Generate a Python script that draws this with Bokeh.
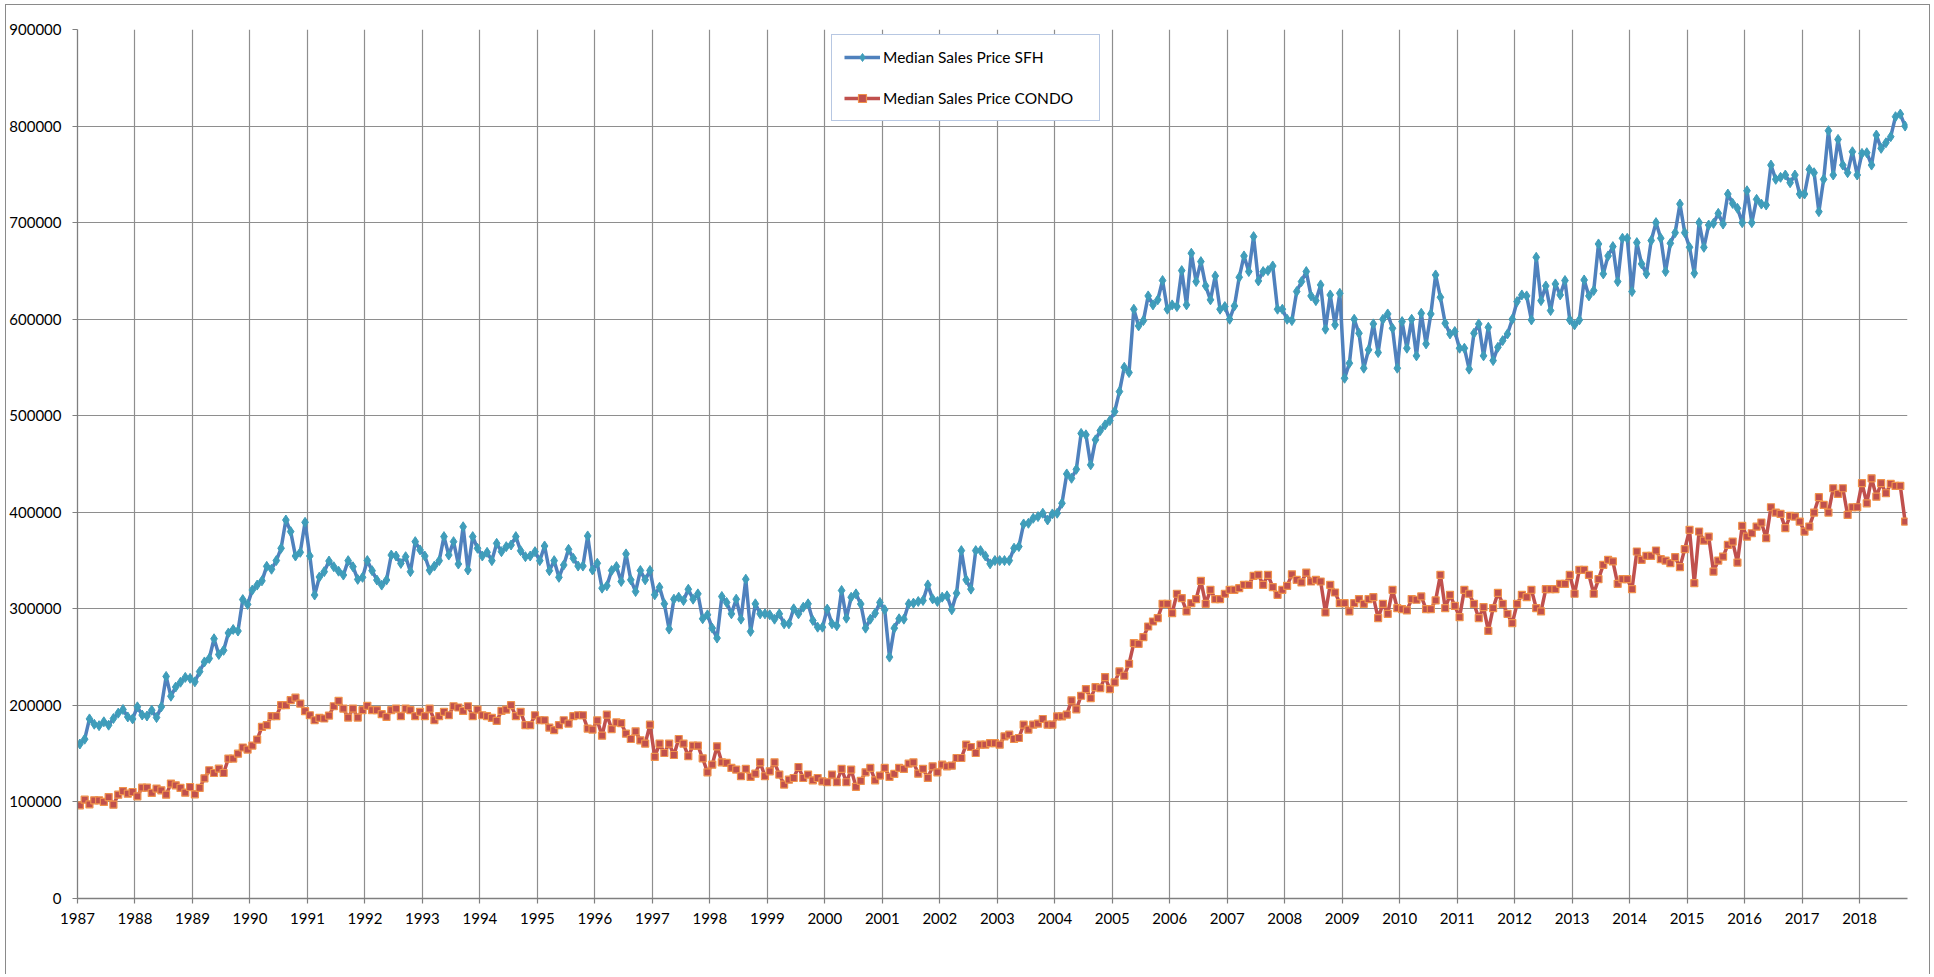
from bokeh.plotting import figure
from bokeh.models import (ColumnDataSource, Range1d, FixedTicker, NumeralTickFormatter,
                          Legend, LegendItem)
from bokeh.embed import file_html
from bokeh.resources import INLINE

# ---------------- data (monthly, Jan 1987 - Oct 2018) ----------------
start_year = 1987
sfh = [
    160000,165000,186000,180500,179000,183000,179500,186400,192000,195700,188000,186000,
    198500,190000,189000,195000,187400,198500,230000,209500,219000,224000,229000,228000,
    224400,235000,245000,248600,269000,252700,257000,275000,278600,277000,309600,304600,
    319500,324600,329000,344000,341000,350000,362700,392000,380000,354700,358500,389600,
    354700,314300,333000,338500,349500,343600,339000,335000,349900,343600,330500,332600,
    350000,339500,329800,324600,329800,355700,354700,347000,354000,338500,369600,361000,
    354700,340000,344300,349900,374800,355700,369600,346400,385000,340200,374800,362700,
    354700,358500,349900,367800,359200,364400,366100,374800,360200,354000,354700,359200,
    349900,365100,339500,349900,332600,345400,361600,352300,344300,344300,375500,340200,
    347200,321400,323800,339700,343800,328300,356900,330000,317900,339700,330000,339700,
    314500,322400,305200,279000,310000,312100,308600,320300,310000,315500,289700,293800,
    280000,269700,312800,306600,294800,310000,289300,330700,276600,305200,294800,294800,
    293800,289300,294800,284500,284500,300000,294800,301700,305200,287900,281000,281000,
    299700,284500,282400,319000,290300,312000,315500,305000,280000,289300,295500,306600,
    299000,250000,280000,289700,289300,305200,305900,307600,308600,324800,310300,307600,
    312100,313500,299000,316200,360300,330000,320400,360300,360300,354800,346600,350000,
    350000,350000,350000,362800,364500,387900,388600,393800,395500,399000,392000,398300,
    399000,409300,439700,435200,444500,481700,480200,449100,475000,484600,490500,495000,
    504300,525000,550200,544700,610300,593000,598500,624100,614800,620000,640000,610300,
    614800,613000,650300,614800,668300,638900,659600,634400,620000,644800,610300,613000,
    599900,613700,643400,665500,649300,685500,639600,649300,650300,655100,610300,610300,
    599900,598500,628600,638900,649300,624100,619200,635500,589600,625100,594100,626800,
    538800,554400,599900,585400,549200,568200,595100,565400,599900,605400,590600,549200,
    597500,569900,599900,562000,606100,574400,605400,645800,622700,595800,584700,587200,
    569900,569900,548200,585400,595100,562000,591600,557100,570900,577800,584700,599900,
    618200,625100,624100,599200,664100,619200,634400,608900,636500,625100,640000,599200,
    594100,599200,640600,624100,629600,677900,646900,665500,675200,638900,683800,683800,
    628600,679300,657200,646900,681400,700000,683800,649300,678600,689600,719300,689600,
    674500,647500,700000,674400,697500,699200,709600,698500,729600,719900,714800,699900,
    733000,699900,724100,719200,718200,759600,744800,746900,749300,741300,749300,729600,
    729600,755100,751700,711300,744800,795200,749300,786200,759600,751700,773400,749300,
    771700,772400,759600,790700,776900,782700,789000,809700,812400,800000,
]
condo = [
    96500,102400,97500,101700,101700,100000,105000,97200,107500,111300,108600,110300,
    105800,114800,114800,109300,113800,112000,107500,119000,117200,114500,109600,115500,
    107900,114500,124500,132800,130000,134500,130000,144900,144900,150000,156400,154200,
    158400,164600,177700,179500,188800,188800,200200,200200,205400,208000,201900,194000,
    189800,184600,187000,186400,189500,199100,204700,196700,187400,196700,187400,195000,
    199500,195000,195000,190900,188100,195000,196700,188800,196700,195000,188800,193300,
    188800,196700,184600,188800,193300,189800,199100,197800,194300,199100,188800,195700,
    189800,188800,187000,183900,194300,195700,200200,188800,193300,179500,179500,189800,
    184600,184600,177000,174300,179500,184600,181200,188800,189800,189800,176000,175000,
    184500,168600,190400,175500,182400,181700,170700,165200,173100,163800,160400,180000,
    146600,160400,150700,160400,148600,165200,160400,147300,158300,158300,145200,130700,
    138600,157600,141000,140400,135200,133500,126600,134200,125900,129300,141000,126600,
    131700,141000,128300,118000,123100,124800,136200,124800,128300,122400,124800,121400,
    120400,128300,120400,134200,120400,133500,115700,121800,130700,135200,122400,127300,
    135200,125900,129000,135200,134200,139700,141000,129300,134200,124900,136900,130700,
    138600,136900,137600,145500,145500,159300,156900,150700,159300,159300,161000,161000,
    159300,167900,169700,165200,166200,180000,174900,180000,181100,185900,180000,180000,
    188600,188600,190400,205200,195900,210000,216900,207500,218900,217900,229300,216900,
    223800,235200,230700,243100,264500,263800,270700,281700,286900,290400,305200,305200,
    295500,315600,311100,297300,305900,310100,329000,305200,319700,310100,310100,315600,
    319700,319700,321400,324900,324900,334200,335200,324900,335200,322500,314500,319700,
    323800,335700,330000,327300,337600,328300,330000,328300,296200,324900,316900,305900,
    305900,297300,305900,310100,305200,310100,312100,290400,305200,294800,319700,300700,
    299700,298300,310100,309400,312800,299700,299700,308700,335200,300700,314500,303100,
    291400,319700,315600,305200,290400,301800,277100,300700,316500,305200,294800,285200,
    305200,314500,312100,319700,300700,297300,320400,320400,320400,325900,325900,335200,
    315600,340400,340400,335200,315600,330700,345600,350800,349100,325900,330700,330700,
    320400,359400,350800,354900,354900,360400,351400,350000,347300,353500,343200,361800,
    381800,326600,380100,370700,374800,338600,350000,354100,366200,369700,347900,385900,
    374800,378300,385200,389400,373100,405200,399700,398300,383500,396200,395500,390400,
    380000,385200,399700,415600,407600,399700,424900,419000,424900,397300,405200,405200,
    430100,409300,435200,416200,430100,419700,429400,427300,427300,390400,
]
year_ticks = list(range(1987, 2019))
price_ticks = list(range(0, 900001, 100000))
series_names = ["Median Sales Price SFH", "Median Sales Price CONDO"]

# months are categories; each point sits in the middle of its month slot
n = len(sfh)
t = [start_year + (i + 0.5) / 12.0 for i in range(n)]
src = ColumnDataSource(dict(t=t, sfh=sfh, condo=condo))

FONT = "Lato"
GRID = "#8e8e8e"
BORDER = "1px solid #8a8a8a"

p = figure(width=1925, height=970, output_backend="svg", toolbar_location=None,
           x_range=Range1d(start_year, start_year + n / 12.0),
           y_range=Range1d(0, 900000),
           min_border_left=69, min_border_right=24, min_border_top=24, min_border_bottom=77,
           styles={"margin-left": "5px", "margin-top": "4px",
                   "border-left": BORDER, "border-top": BORDER, "border-right": BORDER})
p.outline_line_color = None
p.background_fill_color = "white"
p.border_fill_color = "white"

# axes
p.xaxis.ticker = FixedTicker(ticks=year_ticks)
p.xaxis.formatter = NumeralTickFormatter(format="0")
p.yaxis.ticker = FixedTicker(ticks=price_ticks)
p.yaxis.formatter = NumeralTickFormatter(format="0")
for ax in (p.xaxis[0], p.yaxis[0]):
    ax.axis_line_color = "#7f7f7f"
    ax.axis_line_width = 1.3
    ax.major_tick_line_color = "#7f7f7f"
    ax.major_tick_line_width = 1.2
    ax.major_tick_in = 0
    ax.major_tick_out = 5
    ax.minor_tick_line_color = None
    ax.major_label_text_font = FONT
    ax.major_label_text_font_size = "15px"
    ax.major_label_text_color = "black"
p.xaxis.major_label_standoff = 9
p.yaxis.major_label_standoff = 11

p.xgrid.grid_line_color = GRID
p.ygrid.grid_line_color = GRID
p.xgrid.grid_line_width = 1.2
p.ygrid.grid_line_width = 1.2

# series
l1 = p.line("t", "sfh", source=src, line_color="#4F81BD", line_width=3.5)
m1 = p.scatter("t", "sfh", source=src, marker="diamond", size=10,
               fill_color="#3F9DBA", line_color="#3F9DBA", line_width=1)
l2 = p.line("t", "condo", source=src, line_color="#C0504D", line_width=3.5)
m2 = p.scatter("t", "condo", source=src, marker="square", size=7,
               fill_color="#C0504D", line_color="#F0914A", line_width=1.2)

legend = Legend(items=[LegendItem(label=series_names[0], renderers=[l1, m1]),
                       LegendItem(label=series_names[1], renderers=[l2, m2])],
                location=(754, 777), orientation="vertical")
legend.padding = 12
legend.margin = 0
legend.spacing = 21
legend.glyph_width = 36
legend.glyph_height = 20
legend.label_height = 20
legend.label_width = 204
legend.label_standoff = 3
legend.label_text_font = FONT
legend.label_text_font_size = "15.5px"
legend.label_text_color = "black"
legend.border_line_color = "#6F90C6"
legend.border_line_width = 1.3
legend.background_fill_color = "white"
legend.background_fill_alpha = 1
p.add_layout(legend)

open("out.html", "w").write(file_html(p, INLINE))
